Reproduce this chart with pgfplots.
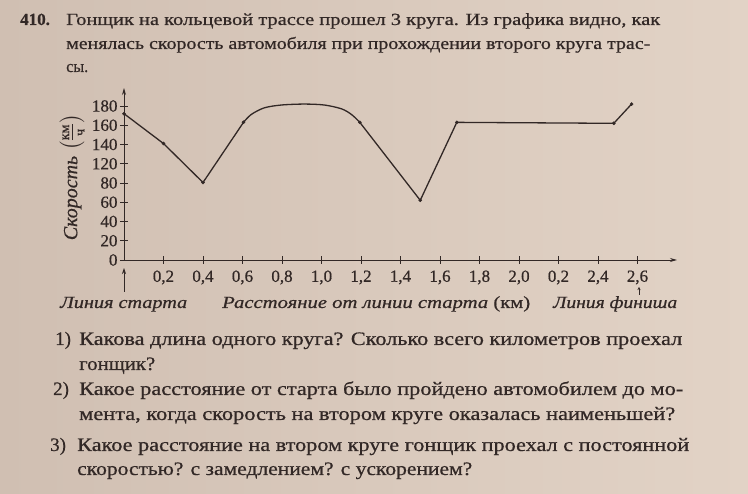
\documentclass[border=0pt]{standalone}
\usepackage{fontspec}
\setmainfont{Liberation Serif}[FakeBold=0.6]
\usepackage{amsmath}
\usepackage{graphicx}
\usepackage{pgfplots}
\pgfplotsset{compat=1.18}
\usetikzlibrary{arrows.meta}
\definecolor{paperL}{RGB}{208,191,178}
\definecolor{paperR}{RGB}{226,211,198}
\definecolor{ink}{RGB}{50,40,38}
\newcommand{\fit}[2]{\resizebox{#1pt}{\height}{#2}}
\begin{document}
\begin{tikzpicture}
\begin{scope}[x=1pt,y=1pt]
\shade[left color=paperL, right color=paperR] (0,0) rectangle (748,494);
\tikzset{txt/.style={anchor=base west, inner sep=0pt, text=ink}}
% header
\node[txt,font=\fontsize{17}{20}\selectfont\bfseries] at (20,494-25) {410.};
\node[txt,font=\fontsize{17}{20}\selectfont] at (66,494-25) {\fit{594}{Гонщик на кольцевой трассе прошел 3 круга. Из графика видно, как}};
\node[txt,font=\fontsize{17}{20}\selectfont] at (66,494-49) {\fit{584}{менялась скорость автомобиля при прохождении второго круга трас-}};
\node[txt,font=\fontsize{17}{20}\selectfont] at (66,494-72) {\fit{22}{сы.}};
% questions
\node[txt,font=\fontsize{19}{22}\selectfont] at (55,494-345) {1)};
\node[txt,font=\fontsize{19}{22}\selectfont] at (79,494-345) {\fit{603}{Какова длина одного круга? Сколько всего километров проехал}};
\node[txt,font=\fontsize{19}{22}\selectfont] at (79,494-370) {\fit{76}{гонщик?}};
\node[txt,font=\fontsize{19}{22}\selectfont] at (53,494-395) {2)};
\node[txt,font=\fontsize{19}{22}\selectfont] at (79,494-395) {\fit{604}{Какое расстояние от старта было пройдено автомобилем до мо-}};
\node[txt,font=\fontsize{19}{22}\selectfont] at (79,494-420) {\fit{596}{мента, когда скорость на втором круге оказалась наименьшей?}};
\node[txt,font=\fontsize{19}{22}\selectfont] at (50,494-451) {3)};
\node[txt,font=\fontsize{19}{22}\selectfont] at (77,494-451) {\fit{612}{Какое расстояние на втором круге гонщик проехал с постоянной}};
\node[txt,font=\fontsize{19}{22}\selectfont] at (77,494-475) {\fit{395}{скоростью? с замедлением? с ускорением?}};
% bottom labels
\node[txt,font=\fontsize{17}{20}\selectfont] at (60,494-308) {\fit{127}{\itshape Линия старта}};
\node[txt,font=\fontsize{17}{20}\selectfont] at (222,494-308) {\fit{308}{\itshape Расстояние от линии старта \upshape(км)}};
\node[txt,font=\fontsize{17}{20}\selectfont] at (553,494-308) {\fit{124}{\itshape Линия финиша}};
% arrows under axis
\draw[ink, line width=0.8pt, -{Stealth[length=6pt,width=4pt]}] (124,494-292) -- (124,494-268);
\draw[ink, line width=0.6pt, -{Stealth[length=3pt,width=3pt]}] (639,494-295) -- (639,494-287);
% y label
\node[text=ink, rotate=90, inner sep=0pt, font=\fontsize{20}{23}\selectfont] at (72,494-177) {\itshape Скорость \upshape$\left(\frac{\text{км}}{\text{ч}}\right)$};
\end{scope}
\begin{axis}[
  at={(124pt,234pt)}, anchor=south west,
  scale only axis, width=553pt, height=172pt,
  xmin=0, xmax=2.80, ymin=0, ymax=198.7,
  enlargelimits=false, clip=false,
  axis lines=left,
  axis line style={ink, line width=0.9pt, -{Stealth[length=7pt,width=4pt]}},
  y coord trafo/.code={\pgfmathparse{(#1<=80)*(#1)+(#1>80)*(#1<=120)*(80+(#1-80)/2)+(#1>120)*(#1-20)}},
  ytick={0,20,40,60,80,120,140,160,180},
  yticklabels={0,20,40,60,80,120,140,160,180},
  xtick={0.2,0.4,0.6,0.8,1.0,1.2,1.4,1.6,1.8,2.0,2.2,2.4,2.6},
  xticklabels={{0,2},{0,4},{0,6},{0,8},{1,0},{1,2},{1,4},{1,6},{1,8},{2,0},{0,2},{2,4},{2,6}},
  tick align=center, major tick length=8pt,
  tick style={ink, line width=0.7pt},
  tick label style={font=\fontsize{17}{19}\selectfont, text=ink},
  xticklabel style={yshift=-3pt},
  yticklabel style={xshift=1pt},
]
\addplot[ink, line width=1.3pt] coordinates {(0,172) (0.2,141) (0.40,81) (0.605,163)};
\addplot[ink, line width=1.3pt, smooth] coordinates {(0.605,163) (0.643,171) (0.709,178) (0.796,181) (0.913,182) (1.015,181) (1.102,177) (1.153,171) (1.194,163)};
\addplot[ink, line width=1.3pt] coordinates {(1.194,163) (1.50,62) (1.685,163) (2.48,162) (2.57,182)};
\addplot[only marks, mark=*, mark size=1.6pt, ink] coordinates {(0,172) (0.2,141) (0.40,81) (0.605,163) (1.194,163) (1.50,62) (1.685,163) (2.48,162) (2.57,182)};
\end{axis}
\end{tikzpicture}
\end{document}
